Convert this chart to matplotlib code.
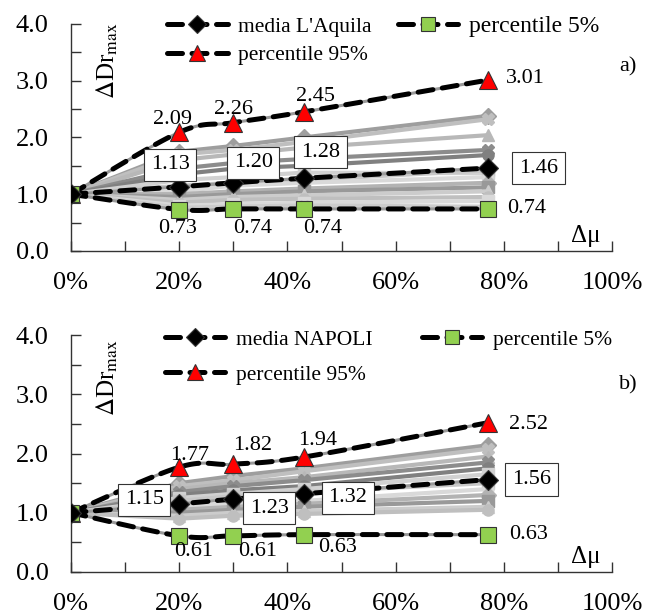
import numpy as np
import matplotlib
matplotlib.use("Agg")
import matplotlib.pyplot as plt
from matplotlib.lines import Line2D

plt.rcParams["font.family"] = ["Liberation Serif", "DejaVu Serif"]
plt.rcParams["mathtext.fontset"] = "stix"

# shared x positions (delta mu)
dmu = [0.0, 0.20, 0.30, 0.43, 0.77]

# panel a) L'Aquila
aq_mean = [1.0, 1.13, 1.20, 1.28, 1.46]
aq_p5 = [1.0, 0.73, 0.74, 0.74, 0.74]
aq_p95 = [1.0, 2.09, 2.26, 2.45, 3.01]
aq_records = [
    [1.0, 1.75, 1.85, 2.00, 2.38],
    [1.0, 1.70, 1.78, 1.92, 2.32],
    [1.0, 1.60, 1.70, 1.82, 2.04],
    [1.0, 1.45, 1.55, 1.62, 1.78],
    [1.0, 1.35, 1.45, 1.50, 1.69],
    [1.0, 1.25, 1.30, 1.38, 1.37],
    [1.0, 1.15, 1.20, 1.25, 1.42],
    [1.0, 1.05, 1.15, 1.20, 1.30],
    [1.0, 1.00, 1.05, 1.10, 1.20],
    [1.0, 0.95, 1.00, 1.05, 1.12],
    [1.0, 0.90, 0.95, 0.98, 1.05],
    [1.0, 0.85, 0.90, 0.92, 0.95],
    [1.0, 0.80, 0.82, 0.85, 0.88],
    [1.0, 0.76, 0.78, 0.80, 0.78],
]

# panel b) Napoli
na_mean = [1.0, 1.15, 1.23, 1.32, 1.56]
na_p5 = [1.0, 0.61, 0.61, 0.63, 0.63]
na_p95 = [1.0, 1.77, 1.82, 1.94, 2.52]
na_records = [
    [1.0, 1.50, 1.62, 1.75, 2.14],
    [1.0, 1.45, 1.55, 1.70, 2.08],
    [1.0, 1.40, 1.50, 1.60, 1.95],
    [1.0, 1.35, 1.45, 1.55, 1.85],
    [1.0, 1.30, 1.38, 1.45, 1.75],
    [1.0, 1.25, 1.32, 1.40, 1.65],
    [1.0, 1.20, 1.28, 1.35, 1.50],
    [1.0, 1.10, 1.15, 1.20, 1.40],
    [1.0, 1.05, 1.10, 1.15, 1.30],
    [1.0, 1.00, 1.05, 1.10, 1.20],
    [1.0, 0.95, 1.00, 1.03, 1.10],
    [1.0, 0.90, 0.95, 0.98, 1.05],
]

rec_colors = ["0.62", "0.75", "0.72", "0.55", "0.50", "0.82", "0.78",
              "0.85", "0.70", "0.60", "0.80", "0.75", "0.85", "0.80"]
rec_markers = ["D", "X", "^", "X", "o", "s", "s", "o", "D", "s", "^", "o", "s", "X"]

GREEN = "#92D050"


def smooth(x, y, n=24):
    """Excel-like smoothed line through the points (bezier segments)."""
    p = np.column_stack([x, y]).astype(float)
    out = []
    for i in range(len(p) - 1):
        p0 = p[i - 1] if i > 0 else p[i]
        p1, p2 = p[i], p[i + 1]
        p3 = p[i + 2] if i + 2 < len(p) else p[i + 1]
        c1 = p1 + (p2 - p0) / 6.0
        c2 = p2 - (p3 - p1) / 6.0
        t = np.linspace(0, 1, n)[:, None]
        seg = ((1 - t) ** 3) * p1 + 3 * ((1 - t) ** 2) * t * c1 + 3 * (1 - t) * t ** 2 * c2 + t ** 3 * p2
        out.append(seg if i == 0 else seg[1:])
    seg = np.vstack(out)
    return seg[:, 0], seg[:, 1]


def stat_line(ax, y, marker, face, ms):
    sx, sy = smooth(dmu, y)
    ax.plot(sx, sy, color="0.6", lw=2.2, zorder=4)
    ax.plot(sx, sy, color="black", lw=3.6, dashes=(3.0, 1.9),
            dash_capstyle="round", zorder=5)
    ax.plot(dmu, y, ls="none", marker=marker, ms=ms, mfc=face,
            mec="#333333", mew=0.8, zorder=6)


def draw_panel(ax, records, mean, p5, p95, city, tag, mean_off, p5_off, p95_off,
               ylab_y, tag_y, big5, legx, colspace, legy, legsp):
    for i, rec in enumerate(records):
        ax.plot(dmu, rec, color=rec_colors[i], lw=3, marker=rec_markers[i],
                ms=8, mec=rec_colors[i], zorder=2)

    stat_line(ax, p95, "^", "red", 13)
    stat_line(ax, p5, "s", GREEN, 12)
    stat_line(ax, mean, "D", "black", 10)

    for k in range(1, len(dmu)):
        ax.annotate(f"{mean[k]:.2f}", (dmu[k], mean[k]), xytext=mean_off[k - 1],
                    textcoords="offset pixels", ha="center", va="center",
                    fontsize=16, zorder=8,
                    bbox=dict(boxstyle="square,pad=0.3", fc="white", ec="#333333", lw=0.8))
        ax.annotate(f"{p5[k]:.2f}", (dmu[k], p5[k]), xytext=p5_off[k - 1],
                    textcoords="offset pixels", ha="center", va="center",
                    fontsize=16, zorder=8)
        ax.annotate(f"{p95[k]:.2f}", (dmu[k], p95[k]), xytext=p95_off[k - 1],
                    textcoords="offset pixels", ha="center", va="center",
                    fontsize=16, zorder=8)

    ax.set_xlim(0, 1.0)
    ax.set_ylim(0, 4.0)
    ax.set_xticks(np.arange(0, 1.01, 0.2))
    ax.set_xticks(np.arange(0.1, 1.0, 0.2), minor=True)
    ax.set_xticklabels([f"{int(round(v * 100))}%" for v in np.arange(0, 1.01, 0.2)])
    ax.set_yticks(np.arange(0, 4.01, 1.0))
    ax.set_yticks(np.arange(0.5, 4.0, 1.0), minor=True)
    ax.set_yticklabels([f"{v:.1f}" for v in np.arange(0, 4.01, 1.0)])
    ax.tick_params(axis="both", which="both", direction="in", length=7,
                   width=1, color="#333333", labelsize=19)
    ax.tick_params(axis="x", which="major", pad=15)
    ax.tick_params(axis="y", which="major", pad=16)
    for s in ["top", "right"]:
        ax.spines[s].set_visible(False)
    for s in ["left", "bottom"]:
        ax.spines[s].set_color("#333333")
        ax.spines[s].set_linewidth(1.0)

    ax.text(0.067, ylab_y, r"$\Delta$Dr$_{\mathrm{max}}$", transform=ax.transAxes,
            rotation=90, ha="center", va="center", fontsize=18)
    ax.text(0.952, 0.065, "Δμ", transform=ax.transAxes, ha="center",
            va="center", fontsize=18)
    ax.text(1.03, tag_y, tag, transform=ax.transAxes, ha="center",
            va="center", fontsize=16)

    def handle(marker, face, ms):
        return Line2D([0], [0], color="black", lw=3.6, dashes=(3.0, 1.9),
                      dash_capstyle="round", marker=marker, ms=ms, mfc=face,
                      mec="#333333", mew=0.8)

    handles = [handle("D", "black", 9), handle("^", "red", 11), handle("s", GREEN, 10)]
    labels = [f"media {city}", "percentile 95%", "percentile 5%"]
    leg = ax.legend(handles, labels, ncol=2, loc="upper left",
                    bbox_to_anchor=(legx, legy), frameon=False, fontsize=15.5,
                    handlelength=2.8, handletextpad=0.5, columnspacing=colspace,
                    labelspacing=legsp, borderaxespad=0)
    if big5:
        leg.get_texts()[2].set_fontsize(17)
    return ax


fig = plt.figure(figsize=(6.45, 6.15), dpi=100)
ax_a = fig.add_axes([0.110, 0.592, 0.839, 0.369])
ax_b = fig.add_axes([0.110, 0.070, 0.839, 0.385])

draw_panel(ax_a, aq_records, aq_mean, aq_p5, aq_p95, "L'Aquila", "a)",
           mean_off=[(-9, 22), (20, 20), (17, 26), (51, 0)],
           p5_off=[(-2, -19), (19, -20), (19, -20), (39, 0)],
           p95_off=[(-7, 13), (0, 13), (12, 15), (38, 2)],
           ylab_y=0.84, tag_y=0.81, big5=True, legx=0.162, colspace=1.2,
           legy=1.075, legsp=0.4)

draw_panel(ax_b, na_records, na_mean, na_p5, na_p95, "NAPOLI", "b)",
           mean_off=[(-35, 4), (36, -9), (44, -4), (44, 0)],
           p5_off=[(14, -16), (24, -16), (34, -13), (41, 0)],
           p95_off=[(10, 12), (19, 19), (14, 17), (41, -2)],
           ylab_y=0.82, tag_y=0.79, big5=False, legx=0.157, colspace=2.3,
           legy=1.06, legsp=0.7)

fig.savefig("out.png", dpi=100)
